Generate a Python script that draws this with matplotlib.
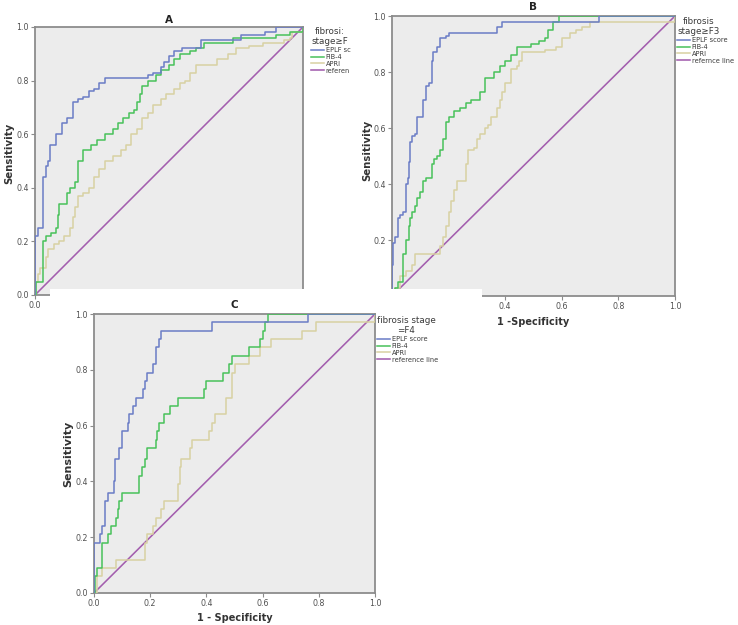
import matplotlib
matplotlib.use("Agg")
import matplotlib.pyplot as plt
from matplotlib.patches import Rectangle

plt.rcParams['font.family'] = ['DejaVu Sans']

# ---------------- data ----------------
series_names = ["EPLF score", "FIB-4", "APRI"]
ticks = [0.0, 0.2, 0.4, 0.6, 0.8, 1.0]
tick_labels = ["0.0", "0.2", "0.4", "0.6", "0.8", "1.0"]

# Panel A: fibrosis stage >= F2
a_eplf_fpr = [0, 0, 0.01, 0.03, 0.04, 0.05, 0.055, 0.08, 0.10, 0.12, 0.14, 0.16, 0.18, 0.20, 0.22, 0.24, 0.26,
              0.42, 0.44, 0.47, 0.48, 0.50, 0.52, 0.55, 0.62, 0.77, 0.86, 0.90, 1.0]
a_eplf_tpr = [0, 0.22, 0.25, 0.44, 0.48, 0.50, 0.56, 0.60, 0.64, 0.66, 0.72, 0.73, 0.74, 0.76, 0.77, 0.79, 0.81,
              0.82, 0.83, 0.85, 0.87, 0.89, 0.91, 0.92, 0.95, 0.97, 0.98, 1.0, 1.0]
a_fib4_fpr = [0, 0.005, 0.03, 0.04, 0.06, 0.08, 0.085, 0.09, 0.12, 0.13, 0.15, 0.16, 0.18, 0.21, 0.23, 0.26, 0.29,
              0.31, 0.33, 0.35, 0.37, 0.38, 0.39, 0.40, 0.42, 0.45, 0.47, 0.50, 0.52, 0.54, 0.58, 0.60, 0.63, 0.74,
              0.90, 0.95, 1.0]
a_fib4_tpr = [0, 0.05, 0.20, 0.22, 0.23, 0.25, 0.30, 0.34, 0.38, 0.40, 0.42, 0.50, 0.54, 0.56, 0.58, 0.60, 0.62,
              0.64, 0.66, 0.68, 0.69, 0.72, 0.75, 0.78, 0.80, 0.82, 0.84, 0.86, 0.88, 0.90, 0.91, 0.92, 0.94, 0.96,
              0.97, 0.98, 1.0]
a_apri_fpr = [0, 0.003, 0.01, 0.02, 0.04, 0.05, 0.07, 0.09, 0.11, 0.13, 0.14, 0.15, 0.16, 0.18, 0.20, 0.22, 0.24,
              0.26, 0.29, 0.32, 0.34, 0.36, 0.38, 0.40, 0.42, 0.44, 0.47, 0.49, 0.52, 0.54, 0.56, 0.58, 0.60, 0.68,
              0.72, 0.75, 0.80, 0.85, 0.93, 0.95, 0.96, 1.0]
a_apri_tpr = [0, 0.05, 0.08, 0.10, 0.14, 0.17, 0.19, 0.20, 0.22, 0.25, 0.29, 0.33, 0.37, 0.38, 0.40, 0.44, 0.47,
              0.50, 0.52, 0.54, 0.56, 0.60, 0.62, 0.66, 0.68, 0.71, 0.73, 0.75, 0.77, 0.79, 0.80, 0.83, 0.86, 0.88,
              0.90, 0.92, 0.93, 0.94, 0.95, 0.96, 0.98, 1.0]

# Panel B: fibrosis stage >= F3
b_eplf_fpr = [0, 0, 0.005, 0.01, 0.02, 0.03, 0.04, 0.05, 0.055, 0.06, 0.065, 0.07, 0.08, 0.09, 0.11, 0.12, 0.13,
              0.14, 0.145, 0.16, 0.17, 0.19, 0.20, 0.37, 0.39, 0.73, 1.0]
b_eplf_tpr = [0, 0.11, 0.19, 0.21, 0.28, 0.29, 0.30, 0.40, 0.42, 0.48, 0.55, 0.57, 0.58, 0.64, 0.70, 0.75, 0.76,
              0.84, 0.87, 0.89, 0.92, 0.93, 0.94, 0.96, 0.98, 1.0, 1.0]
b_fib4_fpr = [0, 0.01, 0.02, 0.04, 0.05, 0.06, 0.065, 0.07, 0.08, 0.09, 0.10, 0.11, 0.12, 0.14, 0.15, 0.16, 0.17,
              0.18, 0.19, 0.20, 0.22, 0.24, 0.26, 0.28, 0.31, 0.33, 0.36, 0.38, 0.40, 0.42, 0.44, 0.49, 0.52, 0.54,
              0.55, 0.57, 0.59, 1.0]
b_fib4_tpr = [0, 0.03, 0.05, 0.15, 0.20, 0.25, 0.28, 0.30, 0.32, 0.35, 0.37, 0.41, 0.42, 0.47, 0.49, 0.50, 0.52,
              0.56, 0.62, 0.64, 0.66, 0.67, 0.69, 0.70, 0.73, 0.78, 0.80, 0.82, 0.84, 0.86, 0.89, 0.90, 0.91, 0.92,
              0.95, 0.98, 1.0, 1.0]
b_apri_fpr = [0, 0.01, 0.03, 0.05, 0.07, 0.08, 0.17, 0.18, 0.19, 0.20, 0.21, 0.22, 0.23, 0.26, 0.27, 0.29, 0.30,
              0.31, 0.33, 0.34, 0.35, 0.37, 0.38, 0.39, 0.40, 0.42, 0.44, 0.45, 0.46, 0.54, 0.58, 0.60, 0.63, 0.65,
              0.67, 0.70, 1.0]
b_apri_tpr = [0, 0.03, 0.07, 0.09, 0.11, 0.15, 0.18, 0.21, 0.25, 0.30, 0.34, 0.38, 0.41, 0.47, 0.52, 0.53, 0.56,
              0.58, 0.60, 0.61, 0.64, 0.67, 0.70, 0.73, 0.76, 0.81, 0.82, 0.84, 0.87, 0.88, 0.89, 0.92, 0.94, 0.95,
              0.96, 0.98, 1.0]

# Panel C: fibrosis stage = F4
c_eplf_fpr = [0, 0, 0.02, 0.03, 0.04, 0.05, 0.07, 0.075, 0.09, 0.10, 0.12, 0.125, 0.14, 0.15, 0.175, 0.18, 0.19,
              0.21, 0.22, 0.23, 0.24, 0.42, 0.76, 1.0]
c_eplf_tpr = [0, 0.18, 0.21, 0.24, 0.33, 0.36, 0.40, 0.48, 0.52, 0.58, 0.61, 0.64, 0.67, 0.70, 0.73, 0.76, 0.79,
              0.82, 0.88, 0.91, 0.94, 0.97, 1.0, 1.0]
c_fib4_fpr = [0, 0.005, 0.01, 0.03, 0.05, 0.06, 0.08, 0.085, 0.09, 0.10, 0.16, 0.17, 0.18, 0.19, 0.22, 0.225, 0.23,
              0.25, 0.27, 0.30, 0.39, 0.40, 0.46, 0.48, 0.49, 0.55, 0.59, 0.60, 0.61, 0.62, 1.0]
c_fib4_tpr = [0, 0.06, 0.09, 0.18, 0.21, 0.24, 0.27, 0.30, 0.33, 0.36, 0.42, 0.45, 0.48, 0.52, 0.55, 0.58, 0.61,
              0.64, 0.67, 0.70, 0.73, 0.76, 0.79, 0.82, 0.85, 0.88, 0.91, 0.94, 0.97, 1.0, 1.0]
c_apri_fpr = [0, 0.01, 0.03, 0.08, 0.18, 0.19, 0.21, 0.22, 0.24, 0.25, 0.30, 0.305, 0.31, 0.34, 0.35, 0.41, 0.42,
              0.43, 0.47, 0.49, 0.50, 0.55, 0.59, 0.63, 0.74, 0.79, 1.0]
c_apri_tpr = [0, 0.06, 0.09, 0.12, 0.18, 0.21, 0.24, 0.27, 0.30, 0.33, 0.39, 0.45, 0.48, 0.52, 0.55, 0.58, 0.61,
              0.64, 0.70, 0.79, 0.82, 0.85, 0.88, 0.91, 0.94, 0.97, 1.0]

ref_x = [0, 1]
ref_y = [0, 1]

# ---------------- style ----------------
COL = {"EPLF score": "#6a7cc6", "FIB-4": "#48c15a", "APRI": "#d8d1a2"}
REF_COL = "#a35eae"
BG = "#ececec"
SPINE = "#8c8c8c"
TICKC = "#505050"

W, H = 738, 625
fig = plt.figure(figsize=(W / 100, H / 100), dpi=100)
fig.patch.set_facecolor("white")


def px_axes(l, t, r, b):
    return [l / W, 1 - b / H, (r - l) / W, (b - t) / H]


def make_panel(rect, title, title_dy, curves, legend_title, legend_labels, legend_pos,
               ylab_dx, ylab_y, ylab_size, xlab=None, xlab_dy=None, xlab_size=7, z=0):
    ax = fig.add_axes(rect)
    ax.set_zorder(z)
    ax.set_facecolor(BG)
    ax.set_xlim(0, 1)
    ax.set_ylim(0, 1)
    for s in ax.spines.values():
        s.set_color(SPINE)
        s.set_linewidth(1.3)
    ax.set_xticks(ticks)
    ax.set_yticks(ticks)
    ax.set_xticklabels(tick_labels)
    ax.set_yticklabels(tick_labels)
    ax.tick_params(direction="out", length=3, width=0.8, color=SPINE, labelsize=5.7,
                   labelcolor=TICKC, pad=1.5, top=False, right=False)
    ref_line, = ax.plot(ref_x, ref_y, color=REF_COL, lw=1.15, zorder=2)
    handles = {}
    for name in ["APRI", "FIB-4", "EPLF score"]:
        fx, ty = curves[name]
        ln, = ax.plot(fx, ty, drawstyle="steps-post", color=COL[name], lw=1.1, zorder=3)
        handles[name] = ln
    ax.text(0.5, 1 + title_dy, title, transform=ax.transAxes, ha="center", va="center",
            fontsize=7.5, fontweight="bold", color="#222222")
    ax.text(ylab_dx, ylab_y, "Sensitivity", transform=ax.transAxes, rotation=90,
            ha="center", va="center", fontsize=ylab_size, fontweight="bold", color="#333333")
    if xlab is not None:
        ax.text(0.5, xlab_dy, xlab, transform=ax.transAxes, ha="center", va="center",
                fontsize=xlab_size, fontweight="bold", color="#333333")
    hl = [handles["EPLF score"], handles["FIB-4"], handles["APRI"], ref_line]
    leg = ax.legend(hl, legend_labels, title=legend_title, loc="upper left",
                    bbox_to_anchor=(legend_pos[0] / W, 1 - legend_pos[1] / H),
                    bbox_transform=fig.transFigure, frameon=False, fontsize=4.8,
                    title_fontsize=6.3, handlelength=1.9, handletextpad=0.3,
                    labelspacing=0.12, borderpad=0, borderaxespad=0, alignment="left")
    for t in leg.get_texts():
        t.set_color("#3a3a3a")
    leg.get_title().set_color("#3a3a3a")
    leg.get_title().set_multialignment("center")
    return ax


curves_a = {"EPLF score": (a_eplf_fpr, a_eplf_tpr), "FIB-4": (a_fib4_fpr, a_fib4_tpr),
            "APRI": (a_apri_fpr, a_apri_tpr)}
curves_b = {"EPLF score": (b_eplf_fpr, b_eplf_tpr), "FIB-4": (b_fib4_fpr, b_fib4_tpr),
            "APRI": (b_apri_fpr, b_apri_tpr)}
curves_c = {"EPLF score": (c_eplf_fpr, c_eplf_tpr), "FIB-4": (c_fib4_fpr, c_fib4_tpr),
            "APRI": (c_apri_fpr, c_apri_tpr)}

make_panel(px_axes(35, 27, 303, 295), "A", 0.026, curves_a, "fibrosi:\nstage≥F",
           ["EPLF sc", "FIB-4", "APRI", "referen"], (311, 27),
           -0.097, 0.53, 7.3, z=0)
make_panel(px_axes(392, 16, 675, 296), "B", 0.032, curves_b, "fibrosis\nstage≥F3",
           ["EPLF score", "FIB-4", "APRI", "refernce line"], (677, 17),
           -0.088, 0.52, 7.3, xlab="1 -Specificity", xlab_dy=-0.093, z=0)

# white patch of the pasted panel C
fig.add_artist(Rectangle((50 / W, 0), (482 - 50) / W, 1 - 289 / H, transform=fig.transFigure,
                         facecolor="white", edgecolor="none", zorder=1))

make_panel(px_axes(94, 314, 375, 593), "C", 0.032, curves_c, "fibrosis stage\n=F4",
           ["EPLF score", "FIB-4", "APRI", "reference line"], (377, 316),
           -0.0925, 0.5, 8.0, xlab="1 - Specificity", xlab_dy=-0.09, z=2)

fig.savefig("out.png", dpi=100, facecolor="white")
